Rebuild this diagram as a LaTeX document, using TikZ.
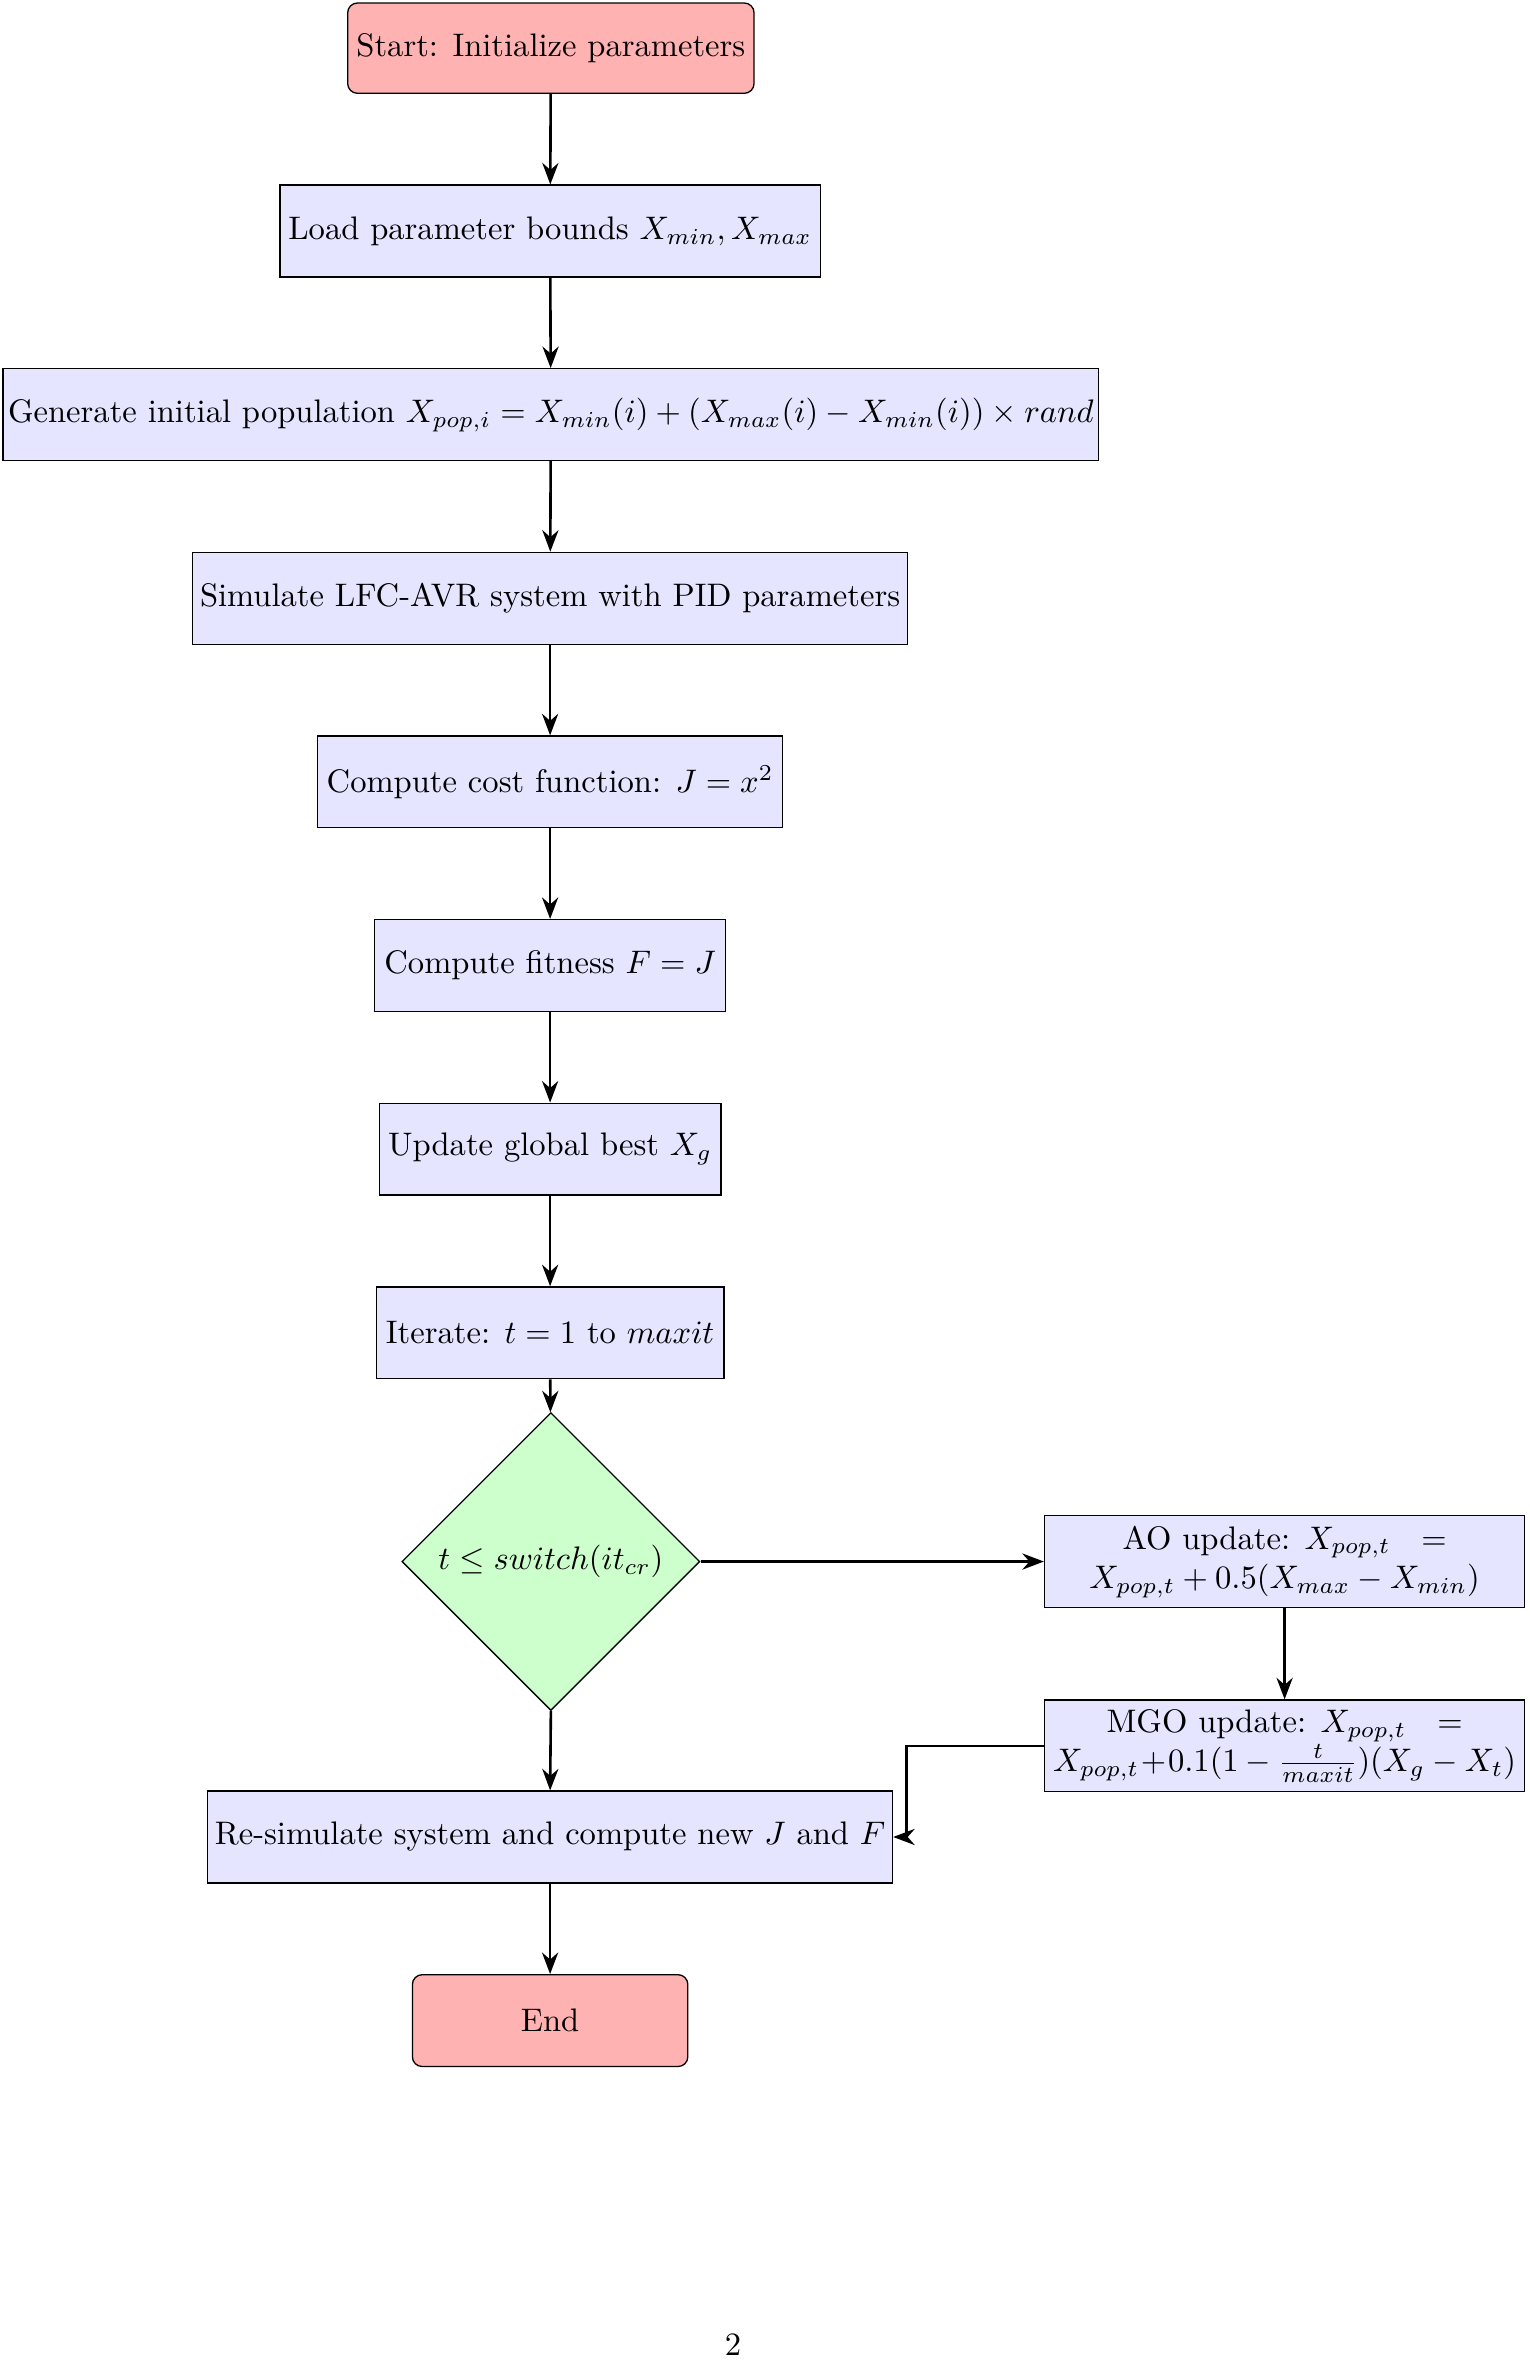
\documentclass[tikz,border=0pt]{standalone}
\usetikzlibrary{shapes.geometric,arrows.meta}
\begin{document}
\begin{tikzpicture}[x=0.4617pt,y=-0.4617pt,
  box/.style={draw,fill=blue!10,minimum height=61*0.4617pt,inner sep=0pt,align=center},
  term/.style={box,fill=red!30,rounded corners=3pt},
  decision/.style={diamond,draw,fill=green!20,aspect=1,minimum width=198*0.4617pt,minimum height=198*0.4617pt,inner sep=0pt},
  arr/.style={thick,-{Stealth}}]
\useasboundingbox (0,0) rectangle (1016,1570);
\node[term,minimum width=270*0.4617pt,minimum height=60*0.4617pt] (start) at (366,32) {Start: Initialize parameters};
\node[box,minimum width=359*0.4617pt] (load) at (365.5,153.5) {Load parameter bounds $X_{min}, X_{max}$};
\node[box,minimum width=728*0.4617pt] (gen) at (366,275.5) {Generate initial population $X_{pop,i} = X_{min}(i) + (X_{max}(i) - X_{min}(i)) \times rand$};
\node[box,minimum width=475*0.4617pt] (sim) at (365.5,397.5) {Simulate LFC-AVR system with PID parameters};
\node[box,minimum width=309*0.4617pt] (cost) at (365.5,519.5) {Compute cost function: $J = x^2$};
\node[box,minimum width=233*0.4617pt] (fit) at (365.5,641.5) {Compute fitness $F = J$};
\node[box,minimum width=227*0.4617pt] (upd) at (365.5,763.5) {Update global best $X_g$};
\node[box,minimum width=231*0.4617pt] (iter) at (365.5,885.5) {Iterate: $t = 1$ to $maxit$};
\node[decision] (dec) at (366,1037.5) {$t \leq switch(it_{cr})$};
\node[box,minimum width=319*0.4617pt] (ao) at (853.5,1037.5) {AO update: $X_{pop,t}\ \ =$\\$X_{pop,t} + 0.5(X_{max} - X_{min})$};
\node[box,minimum width=319*0.4617pt] (mgo) at (853.5,1160) {MGO update: $X_{pop,t}\ \ =$\\$X_{pop,t}\!+\!0.1(1 - \frac{t}{maxit})(X_g - X_t)$};
\node[box,minimum width=455*0.4617pt] (resim) at (365.5,1220.5) {Re-simulate system and compute new $J$ and $F$};
\node[term,minimum width=183*0.4617pt] (end) at (365.5,1342.5) {End};
\node (pg) at (487,1558) {2};
\coordinate (bend) at ([xshift=9*0.4617pt]resim.east);
\draw[arr] (start) -- (load);
\draw[arr] (load) -- (gen);
\draw[arr] (gen) -- (sim);
\draw[arr] (sim) -- (cost);
\draw[arr] (cost) -- (fit);
\draw[arr] (fit) -- (upd);
\draw[arr] (upd) -- (iter);
\draw[arr] (iter) -- (dec);
\draw[arr] (dec.east) -- (ao.west);
\draw[arr] (ao) -- (mgo);
\draw[arr] (dec.south) -- (resim.north);
\draw[arr] (mgo.west) -| (bend) -- (resim.east);
\draw[arr] (resim) -- (end);
\end{tikzpicture}
\end{document}
